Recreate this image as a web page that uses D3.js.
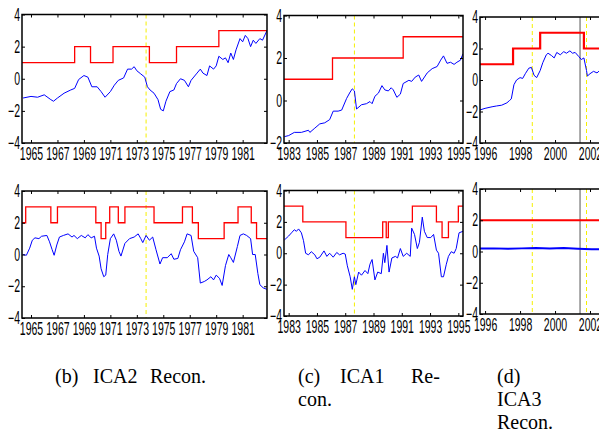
<!DOCTYPE html>
<html lang="en">

<head>
    <meta charset="UTF-8">
    <title>ICA Recon.</title>
    <script src="https://d3js.org/d3.v7.min.js"></script>
    <style>
        body { margin: 0; background: white; }
        .cap { font-family: "Liberation Serif", "DejaVu Serif", serif; font-size: 20px; fill: black; }
    </style>
</head>

<body>
    <script>
        // ---- data ----
        // panel (b) top
        const bTopYears = [1964.4, 1965, 1965.5, 1966, 1966.5, 1966.7, 1967, 1967.5, 1968, 1968.3, 1968.6, 1969, 1969.3, 1969.6, 1970, 1970.3, 1970.6, 1971, 1971.3, 1971.6, 1972, 1972.3, 1972.6, 1972.8, 1973, 1973.3, 1973.6, 1973.8, 1974, 1974.3, 1974.6, 1974.8, 1975, 1975.2, 1975.5, 1975.8, 1976, 1976.3, 1976.6, 1976.9, 1977.1, 1977.5, 1977.8, 1978, 1978.3, 1978.5, 1978.8, 1979, 1979.2, 1979.5, 1979.7, 1979.9, 1980.1, 1980.3, 1980.5, 1980.8, 1981, 1981.2, 1981.4, 1981.6, 1981.8, 1982, 1982.3, 1982.5, 1982.84];
        const bTopBlue = [-1.2, -1.1, -1.15, -1.0, -1.3, -1.4, -1.2, -0.9, -0.7, -0.6, -0.05, 0.2, 0.1, -0.5, -0.5, -0.8, -1.15, -0.8, -0.4, -0.1, 0.05, 0.6, 0.6, 0.75, 0.5, 0.3, 0.1, -0.5, -0.7, -0.9, -1.3, -1.9, -2.0, -1.4, -0.8, -0.7, -0.3, 0.0, -0.1, -0.5, -0.1, 0.3, 0.6, 0.35, 0.2, 0.8, 0.6, 0.8, 1.4, 1.2, 1.3, 1.0, 1.6, 1.2, 1.8, 2.5, 2.3, 2.7, 2.5, 2.0, 2.4, 2.2, 2.5, 2.4, 3.0];
        const bTopRedT = [1964.32, 1968.3, 1969.5, 1971.2, 1973.95, 1976.0, 1979.2];
        const bTopRedV = [1, 2, 1, 2, 1, 2, 3];

        // panel (b) bottom
        const bBotYears = [1964.4, 1964.65, 1964.9, 1965.1, 1965.3, 1965.6, 1965.8, 1966.2, 1966.4, 1966.6, 1966.75, 1966.95, 1967.15, 1967.45, 1967.8, 1968.1, 1968.25, 1968.5, 1968.8, 1969.1, 1969.3, 1969.55, 1969.8, 1969.95, 1970.15, 1970.3, 1970.5, 1970.65, 1970.8, 1971.0, 1971.25, 1971.45, 1971.65, 1971.8, 1972.1, 1972.45, 1972.8, 1973.1, 1973.3, 1973.45, 1973.7, 1973.95, 1974.2, 1974.45, 1974.75, 1974.95, 1975.3, 1975.6, 1975.8, 1976.1, 1976.3, 1976.6, 1976.8, 1977.1, 1977.3, 1977.6, 1977.8, 1978.1, 1978.3, 1978.6, 1978.8, 1979.0, 1979.25, 1979.45, 1979.7, 1979.95, 1980.1, 1980.3, 1980.6, 1980.8, 1981.05, 1981.3, 1981.6, 1981.75, 1981.95, 1982.15, 1982.3, 1982.55, 1982.84];
        const bBotBlue = [0.0, -0.05, 0.4, 0.9, 1.05, 1.0, 1.15, 1.2, 0.8, 0.3, -0.05, 0.6, 1.1, 1.2, 1.3, 1.1, 1.2, 1.0, 1.2, 1.05, 1.25, 1.05, 1.15, 0.4, -0.1, -0.9, -1.4, -1.3, 0.0, 1.0, 1.3, 0.9, 0.2, -0.1, 0.7, 1.0, 1.1, 1.3, 1.0, 0.75, 1.2, 0.9, 1.1, 0.3, -0.6, -0.2, -0.2, 0.05, -0.3, -0.25, 0.3, 0.8, 1.3, 1.2, 0.2, -0.2, -1.8, -1.7, -1.6, -1.4, -1.6, -1.3, -1.5, -1.95, -0.7, 0.0, -0.2, -0.5, 0.5, 1.2, 1.3, 1.2, 1.0, 0.0, 0.0, -1.2, -1.9, -2.1, -2.2];
        const bBotRedT = [1964.32, 1964.6, 1966.5, 1967.0, 1969.9, 1970.3, 1970.65, 1970.95, 1971.6, 1972.1, 1974.3, 1976.45, 1977.2, 1977.65, 1979.6, 1980.65, 1981.65, 1982.05];
        const bBotRedV = [2, 3, 2, 3, 2, 1, 2, 3, 2, 3, 2, 3, 2, 1, 2, 3, 2, 1];

        // panel (c) top
        const cTopYears = [1982.7, 1983, 1983.4, 1983.9, 1984.4, 1984.5, 1984.85, 1985.2, 1985.55, 1985.9, 1986.15, 1986.5, 1986.75, 1987.1, 1987.35, 1987.5, 1987.65, 1987.8, 1988.15, 1988.5, 1988.75, 1988.9, 1989.1, 1989.35, 1989.6, 1989.8, 1990.05, 1990.25, 1990.4, 1990.65, 1990.9, 1991.1, 1991.5, 1991.7, 1991.95, 1992.2, 1992.4, 1992.8, 1993.15, 1993.5, 1993.75, 1993.95, 1994.2, 1994.45, 1994.7, 1994.9, 1995.15, 1995.33];
        const cTopBlue = [-1.7, -1.65, -1.5, -1.5, -1.4, -1.5, -1.3, -1.1, -1.05, -0.9, -0.5, -0.5, -0.45, 0.1, 0.4, 0.55, 0.45, -0.4, -0.2, -0.15, -0.05, -0.15, 0.2, 0.35, 0.7, 0.5, 0.45, 0.6, 0.5, 0.15, 0.3, 0.8, 0.95, 0.9, 1.1, 1.2, 0.9, 1.3, 1.5, 1.6, 1.9, 2.1, 1.75, 1.8, 1.7, 1.8, 1.9, 2.2];
        const cTopRedT = [1982.67, 1986.1, 1991.1];
        const cTopRedV = [1, 2, 3];

        // panel (c) bottom
        const cBotYears = [1982.7, 1983, 1983.2, 1983.4, 1983.55, 1983.7, 1983.9, 1984.05, 1984.2, 1984.4, 1984.6, 1984.85, 1985.0, 1985.2, 1985.5, 1985.7, 1985.9, 1986.15, 1986.4, 1986.6, 1986.85, 1987.0, 1987.15, 1987.35, 1987.5, 1987.65, 1987.75, 1987.95, 1988.15, 1988.4, 1988.6, 1988.75, 1988.9, 1989.1, 1989.3, 1989.55, 1989.7, 1989.8, 1989.95, 1990.1, 1990.3, 1990.55, 1990.7, 1990.9, 1991.1, 1991.35, 1991.6, 1991.7, 1991.9, 1992.1, 1992.25, 1992.45, 1992.6, 1992.8, 1993.05, 1993.25, 1993.45, 1993.6, 1993.8, 1993.95, 1994.15, 1994.3, 1994.5, 1994.7, 1994.85, 1995.05, 1995.33];
        const cBotBlue = [0.85, 1.1, 1.3, 1.5, 1.4, 1.55, 1.3, 0.8, 0.0, -0.1, 0.1, -0.1, -0.35, -0.25, 0.15, -0.2, 0.0, -0.25, 0.05, -0.1, 0.0, -0.05, -0.8, -1.5, -2.3, -1.5, -2.0, -1.2, -1.4, -1.1, -1.3, -0.7, -0.4, -1.7, -1.2, -1.3, 0.0, -0.6, 0.5, -1.2, -0.3, -0.2, -0.3, 0.3, -0.2, 0.0, -0.2, 1.6, 1.2, 0.3, 0.7, 2.3, 1.4, 1.0, 1.0, 1.2, 0.2, 0.0, -1.5, -1.5, -0.7, -0.2, 0.1, 0.0, 0.3, 1.3, 1.4];
        const cBotRedT = [1982.67, 1984.0, 1987.05, 1989.65, 1989.9, 1990.05, 1991.75, 1993.45, 1993.85, 1994.3, 1995.0];
        const cBotRedV = [3, 2, 1, 2, 1, 2, 3, 2, 1, 2, 3];

        // panel (d) top
        const dTopYears = [1995.71, 1996, 1996.4, 1996.65, 1996.95, 1997.25, 1997.4, 1997.5, 1997.65, 1997.8, 1998, 1998.15, 1998.3, 1998.5, 1998.65, 1998.8, 1998.95, 1999.15, 1999.3, 1999.5, 1999.6, 1999.8, 1999.95, 2000.1, 2000.3, 2000.5, 2000.65, 2000.85, 2001, 2001.15, 2001.35, 2001.5, 2001.65, 2001.8, 2001.85, 2002, 2002.2, 2002.4, 2002.55, 2002.8];
        const dTopBlue = [-1.9, -1.8, -1.7, -1.65, -1.6, -1.45, -1.3, -1.2, -0.3, 0.0, 0.15, 0.1, 0.4, 0.75, 0.8, 0.3, 0.15, 0.6, 1.1, 1.6, 1.7, 1.55, 1.4, 1.75, 1.6, 1.8, 1.7, 1.85, 1.7, 1.75, 1.5, 1.3, 1.4, 0.6, 0.25, 0.4, 0.55, 0.45, 0.6, 0.6];
        const dTopRedT = [1995.71, 1997.6, 1999.15, 2001.65];
        const dTopRedV = [1, 2, 3, 2];

        // panel (d) bottom
        const dBotYears = [1995.71, 1996.5, 1997.3, 1998.1, 1998.9, 1999.7, 2000.5, 2001.3, 2002.1, 2002.9];
        const dBotBlue = [0.2, 0.2, 0.18, 0.2, 0.22, 0.2, 0.22, 0.18, 0.15, 0.15];
        const dBotRedT = [1995.71];
        const dBotRedV = [2];

        // tick labels
        const bTicks = [1965, 1967, 1969, 1971, 1973, 1975, 1977, 1979, 1981];
        const cTicks = [1983, 1985, 1987, 1989, 1991, 1993, 1995];
        const dTicks = [1996, 1998, 2000, 2002];
        const yTicks = [-4, -2, 0, 2, 4];
        const yTicksC = [-2, 0, 2, 4];

        // vertical markers
        const bYellow = [1973.7];
        const cYellow = [1987.65];
        const dYellow = [1998.7, 2001.8];
        const dGray = [2001.43];

        // caption words: [text, x, line]
        const captionWords = [
            ["(b)", 55, 0], ["ICA2", 93, 0], ["Recon.", 150, 0],
            ["(c)", 298, 0], ["ICA1", 340, 0], ["Re-", 411, 0], ["con.", 298, 1],
            ["(d)", 497, 0], ["ICA3", 497, 1], ["Recon.", 497, 2]
        ];

        let svg = d3.select('body').append('svg')
            .attr('width', 599).attr('height', 448)
            .style('background', 'white');

        let clipId = 0;
        const sx = 0.6;

        function styleTicks(sel) {
            sel.selectAll('text')
                .style('font-family', '"Liberation Sans", Arial, sans-serif')
                .style('font-size', '17.5px')
                .attr('fill', 'black');
        }

        function drawPanel(p) {
            let x = d3.scaleLinear().domain(p.xDom).range([p.l, p.r]);
            let y = d3.scaleLinear().domain(p.yDom).range([p.b, p.t]);
            let g = svg.append('g');

            clipId++;
            g.append('clipPath').attr('id', 'clip' + clipId)
                .append('rect').attr('x', p.l).attr('y', p.t)
                .attr('width', p.r - p.l).attr('height', p.b - p.t);
            let inner = g.append('g').attr('clip-path', 'url(#clip' + clipId + ')');

            // axes, ticks pointing inward
            let bottom = g.append('g').attr('transform', 'translate(0,' + p.b + ')')
                .call(d3.axisBottom(x).tickValues(p.xTicks).tickFormat(d3.format('d'))
                    .tickSizeInner(-3).tickSizeOuter(0).tickPadding(4));
            styleTicks(bottom);
            bottom.selectAll('text').attr('dy', '0.74em').attr('transform', 'scale(' + sx + ',1)');
            g.append('g').attr('transform', 'translate(0,' + p.t + ')')
                .call(d3.axisTop(x).tickValues(p.xTicks).tickFormat('')
                    .tickSizeInner(-3).tickSizeOuter(0));
            let left = g.append('g').attr('transform', 'translate(' + p.l + ',0)')
                .call(d3.axisLeft(y).tickValues(p.yTicks).tickFormat(d3.format('d'))
                    .tickSizeInner(-3).tickSizeOuter(0).tickPadding(2));
            styleTicks(left);
            left.selectAll('text').attr('x', -2 / sx).attr('transform', 'scale(' + sx + ',1)');
            g.append('g').attr('transform', 'translate(' + p.r + ',0)')
                .call(d3.axisRight(y).tickValues(p.yTicks).tickFormat('')
                    .tickSizeInner(-3).tickSizeOuter(0));
            g.selectAll('.domain').remove();
            g.selectAll('.tick line').attr('stroke', 'black');

            // vertical markers
            p.yellow.forEach(v => {
                inner.append('line')
                    .attr('x1', x(v)).attr('x2', x(v)).attr('y1', p.t).attr('y2', p.b)
                    .attr('stroke', '#f5f000').attr('stroke-width', 1)
                    .attr('stroke-dasharray', '4,3');
            });
            (p.gray || []).forEach(v => {
                inner.append('line')
                    .attr('x1', x(v)).attr('x2', x(v)).attr('y1', p.t).attr('y2', p.b)
                    .attr('stroke', '#555').attr('stroke-width', 1);
            });

            // red regime line
            let redPts = p.redT.map((t, i) => [t, p.redV[i]]);
            redPts.push([p.xDom[1], p.redV[p.redV.length - 1]]);
            inner.append('path')
                .attr('d', d3.line().x(d => x(d[0])).y(d => y(d[1])).curve(d3.curveStepAfter)(redPts))
                .attr('fill', 'none').attr('stroke', '#ff0000').attr('stroke-width', p.redW);

            // blue series
            let bluePts = p.years.map((t, i) => [t, p.blue[i]]);
            inner.append('path')
                .attr('d', d3.line().x(d => x(d[0])).y(d => y(d[1]))(bluePts))
                .attr('fill', 'none').attr('stroke', '#0000ff').attr('stroke-width', p.blueW);

            // frame
            g.append('rect')
                .attr('x', p.l).attr('y', p.t)
                .attr('width', p.r - p.l).attr('height', p.b - p.t)
                .attr('fill', 'none').attr('stroke', 'black').attr('stroke-width', 1.5);
        }

        const bDom = [1964.32, 1982.84], cDom = [1982.67, 1995.33], dDom = [1995.71, 2003.2];

        drawPanel({ l: 22, r: 267, t: 14.5, b: 143, xDom: bDom, yDom: [-4, 4], xTicks: bTicks, yTicks: yTicks,
            years: bTopYears, blue: bTopBlue, redT: bTopRedT, redV: bTopRedV, yellow: bYellow, redW: 1.3, blueW: 1 });
        drawPanel({ l: 284, r: 463, t: 15.5, b: 143, xDom: cDom, yDom: [-2, 4], xTicks: cTicks, yTicks: yTicksC,
            years: cTopYears, blue: cTopBlue, redT: cTopRedT, redV: cTopRedV, yellow: cYellow, redW: 1.3, blueW: 1 });
        drawPanel({ l: 480, r: 611, t: 17, b: 143, xDom: dDom, yDom: [-4, 4], xTicks: dTicks, yTicks: yTicks,
            years: dTopYears, blue: dTopBlue, redT: dTopRedT, redV: dTopRedV, yellow: dYellow, gray: dGray, redW: 2.2, blueW: 1 });
        drawPanel({ l: 22, r: 267, t: 191, b: 318, xDom: bDom, yDom: [-4, 4], xTicks: bTicks, yTicks: yTicks,
            years: bBotYears, blue: bBotBlue, redT: bBotRedT, redV: bBotRedV, yellow: bYellow, redW: 1.3, blueW: 1 });
        drawPanel({ l: 284, r: 463, t: 190.5, b: 316, xDom: cDom, yDom: [-4, 4], xTicks: cTicks, yTicks: yTicks,
            years: cBotYears, blue: cBotBlue, redT: cBotRedT, redV: cBotRedV, yellow: cYellow, redW: 1.3, blueW: 1 });
        drawPanel({ l: 480, r: 611, t: 189, b: 314, xDom: dDom, yDom: [-4, 4], xTicks: dTicks, yTicks: yTicks,
            years: dBotYears, blue: dBotBlue, redT: dBotRedT, redV: dBotRedV, yellow: dYellow, gray: dGray, redW: 2.2, blueW: 2 });

        // captions
        captionWords.forEach(w => {
            svg.append('text').attr('class', 'cap')
                .attr('x', w[1]).attr('y', 383 + w[2] * 23)
                .text(w[0]);
        });
    </script>
</body>

</html>
